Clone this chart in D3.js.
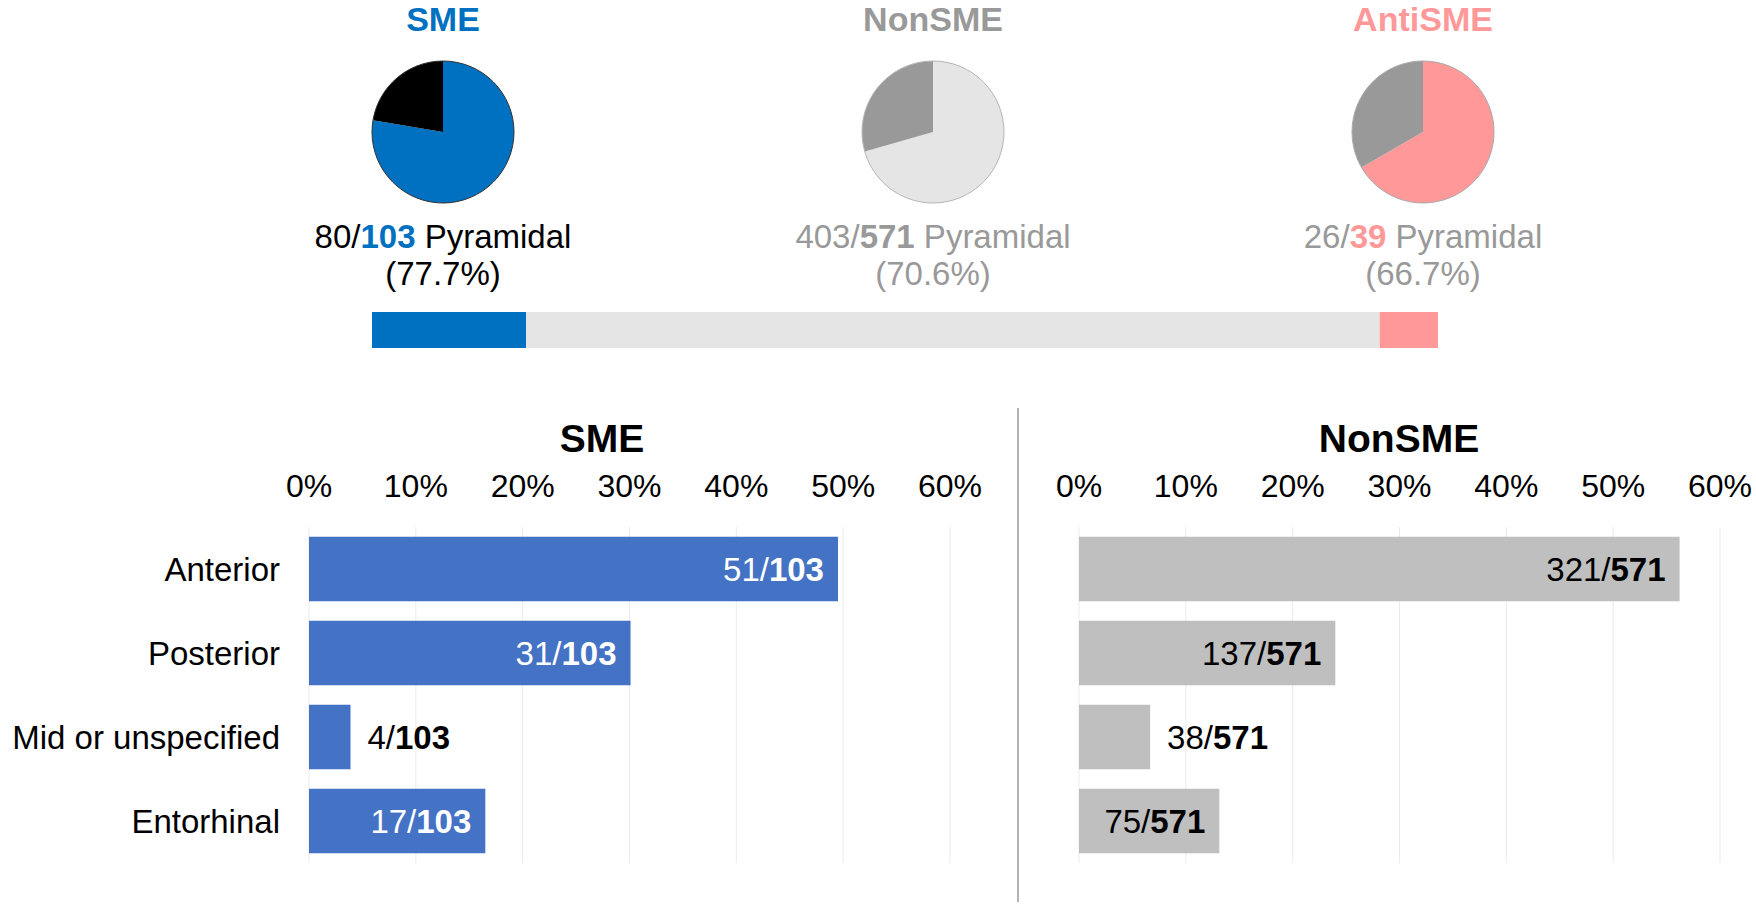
<!DOCTYPE html>
<html>
<head>
<meta charset="utf-8">
<script src="https://cdn.jsdelivr.net/npm/d3@7"></script>
<style>
  body { margin: 0; background: #fff; }
  svg { display: block; font-family: "Liberation Sans", Arial, Helvetica, sans-serif; }
</style>
</head>
<body>
<svg id="chart" width="1756" height="908"></svg>
<script>
// Pyramidal share per group (pies + stacked strip)
const groups = ['SME', 'NonSME', 'AntiSME'];
const pyramidal = [80, 403, 26];
const totals = [103, 571, 39];

// Location breakdown (bar panels)
const regions = ['Anterior', 'Posterior', 'Mid or unspecified', 'Entorhinal'];
const smeCounts = [51, 31, 4, 17];
const nonSmeCounts = [321, 137, 38, 75];
const xTicks = [0, 0.1, 0.2, 0.3, 0.4, 0.5, 0.6];

const BLUE = '#0070c0', PINK = '#ff9999', GREY = '#999999', LIGHT = '#e5e5e5';
const groupStyle = {
  SME:     { title: BLUE, main: BLUE,  rest: '#000', text: '#000', accent: BLUE, stroke: '#333' },
  NonSME:  { title: GREY, main: LIGHT, rest: GREY,   text: GREY,   accent: GREY, stroke: '#b5b5b5' },
  AntiSME: { title: PINK, main: PINK,  rest: GREY,   text: GREY,   accent: PINK, stroke: '#aaa' },
};

const svg = d3.select('#chart');
const pct0 = d3.format('.0%'), pct1 = d3.format('.1%');

// ---- top: pies
const pieX = d3.scalePoint().domain(groups).range([443, 1423]);
const pieY = 132, R = 71;
const pie = d3.pie().sort(null).startAngle(0).endAngle(2 * Math.PI);
const arc = d3.arc().innerRadius(0).outerRadius(R);

groups.forEach((g, i) => {
  const st = groupStyle[g];
  const cx = pieX(g);
  const pg = svg.append('g').attr('transform', `translate(${cx},${pieY})`);
  pg.selectAll('path').data(pie([pyramidal[i], totals[i] - pyramidal[i]])).enter()
    .append('path').attr('d', arc).attr('fill', (d, j) => j === 0 ? st.main : st.rest);
  pg.append('circle').attr('r', R).attr('fill', 'none').attr('stroke', st.stroke).attr('stroke-width', 1);

  svg.append('text').attr('x', cx).attr('y', 31).attr('text-anchor', 'middle')
    .attr('font-size', 34).attr('font-weight', 'bold').attr('fill', st.title).text(g);

  const t1 = svg.append('text').attr('x', cx).attr('y', 248).attr('text-anchor', 'middle')
    .attr('font-size', 33).attr('fill', st.text);
  t1.append('tspan').text(pyramidal[i] + '/');
  t1.append('tspan').attr('font-weight', 'bold').attr('fill', st.accent).text(totals[i]);
  t1.append('tspan').text(' Pyramidal');

  svg.append('text').attr('x', cx).attr('y', 285).attr('text-anchor', 'middle')
    .attr('font-size', 33).attr('fill', st.text).text('(' + pct1(pyramidal[i] / totals[i]) + ')');
});

// ---- stacked strip of group sizes
const grand = d3.sum(totals);
const stripX = d3.scaleLinear().domain([0, grand]).range([372, 1438]);
const cum = d3.cumsum(totals);
svg.append('g').selectAll('rect').data(groups).enter().append('rect')
  .attr('x', (d, i) => stripX(cum[i] - totals[i]))
  .attr('width', (d, i) => stripX(cum[i]) - stripX(cum[i] - totals[i]))
  .attr('y', 312).attr('height', 36)
  .attr('fill', d => groupStyle[d].main);

// ---- divider
svg.append('line').attr('x1', 1018).attr('x2', 1018).attr('y1', 408).attr('y2', 902)
  .attr('stroke', '#9a9a9a').attr('stroke-width', 1.5);

// ---- bar panels
const y = d3.scaleBand().domain(regions).range([527, 863]).paddingInner(0.232).paddingOuter(0.116);

function panel(opts) {
  const { counts, total, range, color, inText, title, titleX, showCats } = opts;
  const x = d3.scaleLinear().domain([0, 0.6]).range(range);
  const g = svg.append('g');

  g.append('text').attr('x', titleX).attr('y', 452).attr('text-anchor', 'middle')
    .attr('font-size', 39).attr('font-weight', 'bold').attr('fill', '#000').text(title);

  g.selectAll('.grid').data(xTicks).enter().append('line')
    .attr('x1', d => x(d)).attr('x2', d => x(d)).attr('y1', 527).attr('y2', 863)
    .attr('stroke', '#ebebeb').attr('stroke-width', 1);

  g.selectAll('.tick').data(xTicks).enter().append('text')
    .attr('x', d => x(d)).attr('y', 497).attr('text-anchor', 'middle')
    .attr('font-size', 32).attr('fill', '#000').text(d => pct0(d));

  if (showCats) {
    g.selectAll('.cat').data(regions).enter().append('text')
      .attr('x', 280).attr('y', d => y(d) + y.bandwidth() / 2 + 12)
      .attr('text-anchor', 'end').attr('font-size', 33).attr('fill', '#000').text(d => d);
  }

  regions.forEach((r, i) => {
    const v = counts[i] / total;
    const w = x(v) - x(0);
    g.append('rect').attr('x', x(0)).attr('y', y(r)).attr('width', w)
      .attr('height', y.bandwidth()).attr('fill', color);
    const t = g.append('text').attr('font-size', 33)
      .attr('y', y(r) + y.bandwidth() / 2 + 12);
    t.append('tspan').text(counts[i] + '/');
    t.append('tspan').attr('font-weight', 'bold').text(total);
    // label goes inside the bar when it fits
    const inside = w > t.node().getComputedTextLength() + 28;
    t.attr('x', inside ? x(v) - 14 : x(v) + 17)
      .attr('text-anchor', inside ? 'end' : 'start')
      .attr('fill', inside ? inText : '#000');
  });
}

panel({ counts: smeCounts, total: totals[0], range: [309, 950], color: '#4472c4',
        inText: '#fff', title: 'SME', titleX: 602, showCats: true });
panel({ counts: nonSmeCounts, total: totals[1], range: [1079, 1720], color: '#bfbfbf',
        inText: '#000', title: 'NonSME', titleX: 1399, showCats: false });
</script>
</body>
</html>
